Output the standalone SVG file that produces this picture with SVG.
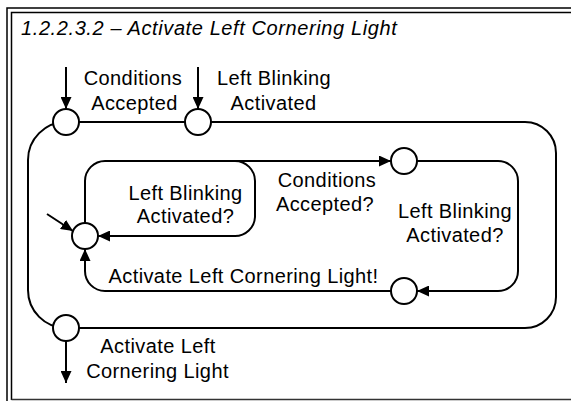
<svg xmlns="http://www.w3.org/2000/svg" width="571" height="401" viewBox="0 0 571 401">
<style>
  .t { font-family: "Liberation Sans", Arial, sans-serif; font-size: 20px; letter-spacing: 0.4px; fill: #000; text-anchor: middle; }
  .title { font-family: "Liberation Sans", Arial, sans-serif; font-size: 20px; font-style: italic; letter-spacing: 0.6px; fill: #000; }
  .node { fill: #fff; stroke: #000; stroke-width: 2; }
  .conn { fill: none; stroke: #000; stroke-width: 2; }
  .frame { fill: none; stroke: #000; stroke-width: 1.5; }
</style>
<defs>
  <marker id="ah" viewBox="0 0 12 11" markerWidth="12" markerHeight="11" refX="12" refY="5.5" orient="auto" markerUnits="userSpaceOnUse">
    <path d="M0,0 L12,5.5 L0,11 Z" fill="#000"/>
  </marker>
</defs>
<rect x="0" y="0" width="571" height="401" fill="#fff"/>
<g id="frame">
  <path class="frame" d="M7,401 V8 H571"/>
  <path class="frame" d="M11.5,400 V12.5 H571"/>
  <path d="M11.5,399.5 H571" stroke="#333" stroke-width="1.5" fill="none"/>
  <text class="title" x="21" y="35">1.2.2.3.2 – Activate Left Cornering Light</text>
</g>
<g id="connectors">
  <path class="conn" d="M66,67 V109" marker-end="url(#ah)"/>
  <path class="conn" d="M198,67 V109" marker-end="url(#ah)"/>
  <path class="conn" d="M66,122 H525 A31,31 0 0 1 556,153 V297 A31,31 0 0 1 525,328 H66 A38,38 0 0 1 28,290 V160 A38,38 0 0 1 66,122 Z"/>
  <path class="conn" d="M66,341 V383" marker-end="url(#ah)"/>
  <path class="conn" d="M85,223 V181 A20,20 0 0 1 105,161 H391" marker-end="url(#ah)"/>
  <path class="conn" d="M235,161 A20,20 0 0 1 255,181 V217 A20,20 0 0 1 235,236 H98" marker-end="url(#ah)"/>
  <path class="conn" d="M417,161 H498 A20,20 0 0 1 518,181 V271 A20,20 0 0 1 498,291 H417" marker-end="url(#ah)"/>
  <path class="conn" d="M391,291 H105 A20,20 0 0 1 85,271 V249" marker-end="url(#ah)"/>
  <path class="conn" d="M47,214 L73,231" marker-end="url(#ah)"/>
</g>
<g id="n1"><circle class="node" cx="66" cy="122" r="13"/></g>
<g id="n2"><circle class="node" cx="198" cy="122" r="13"/></g>
<g id="n3"><circle class="node" cx="66" cy="328" r="13"/></g>
<g id="nA"><circle class="node" cx="85" cy="236" r="13"/></g>
<g id="nB"><circle class="node" cx="404" cy="161" r="13"/></g>
<g id="nC"><circle class="node" cx="404" cy="291" r="13"/></g>
<g id="labels">
  <text class="t" x="133" y="85">Conditions</text>
  <text class="t" x="134.5" y="110">Accepted</text>
  <text class="t" x="274" y="85">Left Blinking</text>
  <text class="t" x="273.5" y="110">Activated</text>
  <text class="t" x="185.5" y="200">Left Blinking</text>
  <text class="t" x="185.5" y="223">Activated?</text>
  <text class="t" x="327" y="187">Conditions</text>
  <text class="t" x="325" y="211">Accepted?</text>
  <text class="t" x="455" y="218">Left Blinking</text>
  <text class="t" x="455" y="242">Activated?</text>
  <text class="t" x="243.5" y="283">Activate Left Cornering Light!</text>
  <text class="t" x="158" y="353">Activate Left</text>
  <text class="t" x="157.5" y="378">Cornering Light</text>
</g>
</svg>
